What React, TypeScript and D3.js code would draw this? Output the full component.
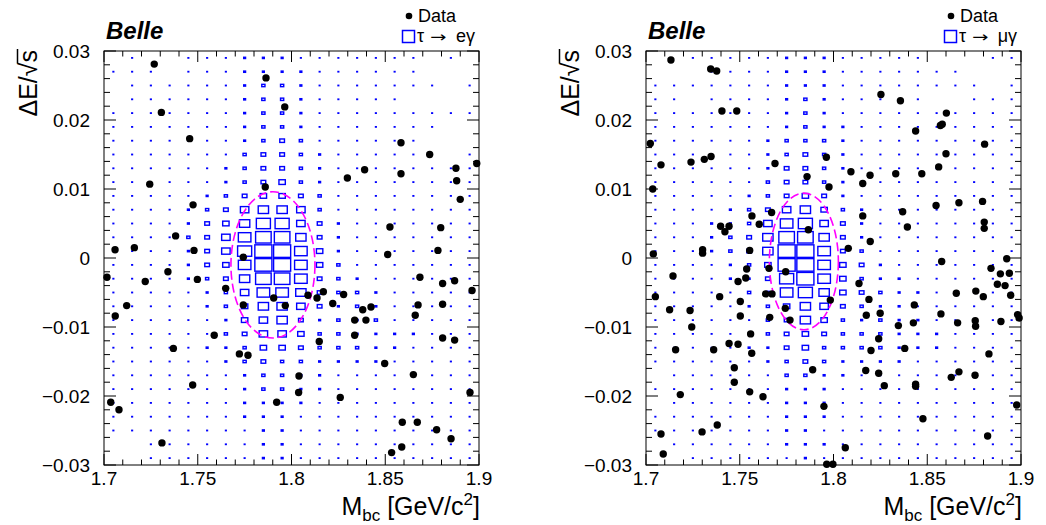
import React, { useLayoutEffect, useRef, useState } from "react";
import * as d3 from "d3";

// ---------- data ----------
const X_DOMAIN: [number, number] = [1.7, 1.9];
const Y_DOMAIN: [number, number] = [-0.03, 0.03];
const X_BIN = 0.01;
const Y_BIN = 0.002;

const X_MAJOR = [1.7, 1.75, 1.8, 1.85, 1.9];
const X_TICK_LABELS = ["1.7", "1.75", "1.8", "1.85", "1.9"];
const Y_MAJOR = [0.03, 0.02, 0.01, 0, -0.01, -0.02, -0.03];
const Y_TICK_LABELS = ["0.03", "0.02", "0.01", "0", "\u22120.01", "\u22120.02", "\u22120.03"];

// relative bin content (% of max) for each level code
const LEVEL_CONTENT: Record<string, number> = {
  ".": 0, "1": 6, "2": 12, "3": 17, "4": 25, "5": 34, "6": 45,
  "7": 55, "8": 67, "9": 75, "A": 83, "B": 91,
};

// signal MC, rows from dE = +0.03 (top) downward, 20 Mbc bins each
const signalE = [
  ".1..1112221111111.1.",
  "111.1112222111111...",
  ".11111123321111111.1",
  ".111111233211111....",
  "11111112332111111111",
  "111111123321111111..",
  "11111112343111111...",
  "11111113443211111..1",
  "11111123443211111111",
  "11111123453211111111",
  "11111234554311111111",
  "11112346776311111111",
  "11112457996421111111",
  "11113468AA7421111111",
  "11112469BB8521111111",
  "11112458BB8531111111",
  "11112347AA8432111111",
  "11111236887433211111",
  "11111235776423211111",
  "11111125674232311111",
  "11111134665332222111",
  "11111223554333221111",
  "11111123433222211111",
  "11111112332211111111",
  "11111112332211111111",
  "11111112222111111111",
  "11111112221111111111",
  "11111111221111111111",
  "..111111221111111111",
  "..111111221111111111",
];

const signalMu = [
  "..1111122211111...11",
  "...11112221111111...",
  "111111122211111111.1",
  "11.111123211111..111",
  "11111112321111111111",
  "11111112322111111111",
  "11111123332111111111",
  "11111123432111111111",
  "11111124432111111111",
  "11111134432111111111",
  "11111234542111111111",
  "11112346753211111111",
  "11122368964211111111",
  "1112347AA74211111111",
  "1112347BB84311111111",
  "1111235BB85421111111",
  "11112249B85322111111",
  "11111338975432211111",
  "11111235764322111111",
  "11111134753232211111",
  "11111134543332221111",
  "11111224533332221111",
  "11111123432222111111",
  ".1111113322111111111",
  "11111112221111111111",
  ".1111112221111111111",
  "11111112221111111111",
  "11111112211111111111",
  ".1111112221111111111",
  "..111111211111111111",
];

// data events [Mbc, dE/sqrt(s)]
const dataE: [number, number][] = [
  [1.7268, 0.0281], [1.7864, 0.0261], [1.7964, 0.0219], [1.7306, 0.0211], [1.7457, 0.0173],
  [1.8584, 0.0167], [1.8737, 0.015], [1.8988, 0.0137], [1.8877, 0.013], [1.839, 0.0128],
  [1.8584, 0.0122], [1.8298, 0.0116], [1.8881, 0.0112], [1.7244, 0.0107], [1.786, 0.0103],
  [1.7475, 0.0077], [1.89, 0.0085], [1.7382, 0.0032], [1.8525, 0.0045], [1.8796, 0.0044],
  [1.7059, 0.0012], [1.7162, 0.0015], [1.748, 0.0011], [1.8513, 0.0005], [1.8781, 0.0011],
  [1.7743, 0.0001], [1.7016, -0.0028], [1.722, -0.0034], [1.7341, -0.002], [1.7498, -0.0031],
  [1.8685, -0.0028], [1.8806, -0.0037], [1.887, -0.0033], [1.8963, -0.0047], [1.7649, -0.0044],
  [1.7121, -0.0069], [1.706, -0.0084], [1.7743, -0.0068], [1.7905, -0.0058], [1.7967, -0.0069],
  [1.8088, -0.0054], [1.8136, -0.0058], [1.817, -0.0049], [1.8278, -0.0053], [1.822, -0.0066],
  [1.838, -0.0075], [1.8424, -0.0071], [1.8337, -0.009], [1.8397, -0.009], [1.8675, -0.0068],
  [1.866, -0.0083], [1.8806, -0.0067], [1.7588, -0.0112], [1.8337, -0.0112], [1.8806, -0.0116],
  [1.887, -0.0119], [1.8148, -0.0121], [1.737, -0.0131], [1.7722, -0.0139], [1.7768, -0.0141],
  [1.8497, -0.0153], [1.804, -0.0171], [1.865, -0.0169], [1.7473, -0.0184], [1.8038, -0.0195],
  [1.8952, -0.0195], [1.826, -0.0202], [1.7921, -0.0209], [1.7036, -0.0209], [1.708, -0.022],
  [1.8591, -0.0238], [1.8671, -0.0238], [1.8774, -0.0249], [1.8851, -0.0262], [1.7309, -0.0268],
  [1.8588, -0.0274], [1.8534, -0.0282],
];

const dataMu: [number, number][] = [
  [1.7133, 0.0287], [1.7345, 0.0274], [1.7377, 0.0271], [1.7405, 0.0213], [1.7484, 0.0213],
  [1.8253, 0.0237], [1.8357, 0.0228], [1.8602, 0.021], [1.858, 0.0194], [1.857, 0.0192],
  [1.8438, 0.0184], [1.7023, 0.0166], [1.8806, 0.0165], [1.86, 0.0151], [1.7347, 0.0147],
  [1.7311, 0.0143], [1.724, 0.0139], [1.708, 0.0135], [1.7962, 0.0146], [1.7688, 0.0137],
  [1.8561, 0.0132], [1.8093, 0.0125], [1.8195, 0.012], [1.8332, 0.0122], [1.8471, 0.0122],
  [1.7859, 0.0118], [1.8156, 0.0108], [1.7036, 0.01], [1.7976, 0.0103], [1.8547, 0.0076],
  [1.8669, 0.008], [1.8795, 0.0082], [1.7565, 0.0061], [1.767, 0.0066], [1.8156, 0.0061],
  [1.8369, 0.0067], [1.7604, 0.0049], [1.7398, 0.0046], [1.7443, 0.0046], [1.7421, 0.0038],
  [1.8394, 0.0045], [1.8804, 0.0052], [1.8804, 0.0043], [1.7866, 0.0041], [1.8196, 0.0024],
  [1.7302, 0.0012], [1.7302, 0.0007], [1.7039, 0.0006], [1.7553, 0.0011], [1.8079, 0.0014],
  [1.8577, -0.0005], [1.8924, -0.0001], [1.884, -0.0015], [1.889, -0.0023], [1.8938, -0.0022],
  [1.8874, -0.0038], [1.8915, -0.004], [1.7144, -0.0026], [1.7537, -0.0016], [1.7656, -0.0015],
  [1.7745, -0.002], [1.7532, -0.0029], [1.7491, -0.0034], [1.8136, -0.0037], [1.705, -0.0056],
  [1.7393, -0.0056], [1.7638, -0.0052], [1.7672, -0.0052], [1.7503, -0.0063], [1.7983, -0.0061],
  [1.8189, -0.006], [1.8655, -0.0051], [1.8759, -0.0048], [1.8799, -0.0056], [1.8945, -0.0054],
  [1.7126, -0.0075], [1.7235, -0.0076], [1.7743, -0.0073], [1.7503, -0.0084], [1.766, -0.0086],
  [1.7768, -0.009], [1.8175, -0.0083], [1.8249, -0.008], [1.8431, -0.0068], [1.8573, -0.0081],
  [1.8346, -0.0098], [1.8426, -0.0094], [1.8662, -0.0094], [1.8756, -0.0091], [1.8758, -0.0099],
  [1.8893, -0.0092], [1.8982, -0.0082], [1.899, -0.0087], [1.7244, -0.01], [1.7558, -0.011],
  [1.7443, -0.0124], [1.7491, -0.0125], [1.7158, -0.0133], [1.7361, -0.0133], [1.7564, -0.0138],
  [1.8241, -0.0117], [1.82, -0.0134], [1.838, -0.0131], [1.8829, -0.0139], [1.7471, -0.0159],
  [1.7889, -0.0162], [1.8172, -0.0163], [1.8241, -0.0167], [1.8669, -0.0165], [1.8628, -0.0173],
  [1.8755, -0.017], [1.7471, -0.018], [1.8271, -0.0185], [1.8438, -0.0183], [1.8438, -0.0186],
  [1.7183, -0.0198], [1.7553, -0.0194], [1.7624, -0.0201], [1.7949, -0.0215], [1.8977, -0.0213],
  [1.8477, -0.0233], [1.738, -0.0242], [1.7299, -0.0252], [1.708, -0.0255], [1.8822, -0.0258],
  [1.8063, -0.0275], [1.7092, -0.0284], [1.7964, -0.0299], [1.7997, -0.0299],
];

// signal region ellipses: [centre Mbc, centre dE, half-width Mbc, half-height dE]
const ellipseE = [1.7901, -0.001, 0.0224, 0.0106];
const ellipseMu = [1.7842, -0.0005, 0.0184, 0.0099];

// legend: [particle, arrow, final state]
const LEGEND_SIGNAL: [string, string, string][] = [
  ["\u03c4", "\u2192", "e\u03b3"],
  ["\u03c4", "\u2192", "\u03bc\u03b3"],
];

// ---------- layout ----------
const W = 375;
const H = 414;
const TOP = 51;
const PANEL_LEFT = [104, 646];
const FONT = "'Liberation Sans', Arial, Helvetica, sans-serif";
const BLUE = "#0000ff";

function YTitle({ x, y }: { x: number; y: number }) {
  const ref = useRef<SVGTextElement>(null);
  const [bar, setBar] = useState<[number, number] | null>(null);
  useLayoutEffect(() => {
    const t = ref.current;
    if (!t) return;
    const n = t.getNumberOfChars();
    const r1 = t.getEndPositionOfChar(n - 2).x;
    const s1 = t.getEndPositionOfChar(n - 1).x;
    setBar([r1 - 1, s1 + 1]);
  }, []);
  return (
    <g transform={`translate(${x},${y}) rotate(-90)`}>
      <text ref={ref} textAnchor="end" fontSize={25} fontFamily={FONT} fill="#000">
        {"\u0394E/\u221as"}
      </text>
      {bar && (
        <line x1={bar[0]} x2={bar[1]} y1={-19.5} y2={-19.5} stroke="#000" strokeWidth={1.5} />
      )}
    </g>
  );
}

function Panel({ idx }: { idx: number }) {
  const grid = idx === 0 ? signalE : signalMu;
  const data = idx === 0 ? dataE : dataMu;
  const ell = idx === 0 ? ellipseE : ellipseMu;
  const leg = LEGEND_SIGNAL[idx];
  const x = d3.scaleLinear().domain(X_DOMAIN).range([0, W]);
  const y = d3.scaleLinear().domain(Y_DOMAIN).range([H, 0]);
  const bw = x(X_DOMAIN[0] + X_BIN) - x(X_DOMAIN[0]);
  const bh = y(0) - y(Y_BIN);

  const boxes: React.ReactNode[] = [];
  grid.forEach((row, j) => {
    row.split("").forEach((ch, i) => {
      const c = LEVEL_CONTENT[ch] || 0;
      if (c <= 0) return;
      const cx = x(X_DOMAIN[0] + X_BIN * (i + 0.5));
      const cy = y(Y_DOMAIN[1] - Y_BIN * (j + 0.5));
      const f = c / 100;
      const w = f * bw;
      const h = f * bh;
      if (c <= 12) {
        boxes.push(
          <rect key={`${i}-${j}`} x={cx - (w + 1) / 2} y={cy - (h + 1) / 2} width={w + 1} height={h + 1} fill={BLUE} />
        );
      } else {
        boxes.push(
          <rect key={`${i}-${j}`} x={cx - w / 2} y={cy - h / 2} width={w} height={h} fill="none" stroke={BLUE} strokeWidth={1.4} />
        );
      }
    });
  });

  const xMinor = d3.range(0, 21).map((k) => X_DOMAIN[0] + k * X_BIN);
  const yMinor = d3.range(0, 31).map((k) => Y_DOMAIN[0] + k * Y_BIN);
  const isMajorX = (v: number) => X_MAJOR.some((m) => Math.abs(m - v) < 1e-6);
  const isMajorY = (v: number) => Y_MAJOR.some((m) => Math.abs(m - v) < 1e-6);

  return (
    <g transform={`translate(${PANEL_LEFT[idx]},${TOP})`} fontFamily={FONT}>
      <defs>
        <clipPath id={`clip${idx}`}>
          <rect x={0} y={0} width={W} height={H} />
        </clipPath>
      </defs>
      <g clipPath={`url(#clip${idx})`}>
        {boxes}
        <ellipse
          cx={x(ell[0])}
          cy={y(ell[1])}
          rx={x(ell[0] + ell[2]) - x(ell[0])}
          ry={y(ell[1]) - y(ell[1] + ell[3])}
          fill="none"
          stroke="#ff00ff"
          strokeWidth={1.6}
          strokeDasharray="9 4"
        />
      </g>
      {data.map((d, k) => (
        <circle key={k} cx={x(d[0])} cy={y(d[1])} r={3.7} fill="#000" />
      ))}
      {/* frame */}
      <rect x={0} y={0} width={W} height={H} fill="none" stroke="#000" strokeWidth={1} />
      {/* x ticks */}
      {xMinor.map((v, k) => {
        const L = isMajorX(v) ? 11 : 5.5;
        const px = x(v);
        return (
          <g key={`xt${k}`} stroke="#000" strokeWidth={1}>
            <line x1={px} x2={px} y1={H} y2={H - L} />
            <line x1={px} x2={px} y1={0} y2={L} />
          </g>
        );
      })}
      {yMinor.map((v, k) => {
        const L = isMajorY(v) ? 12 : 6;
        const py = y(v);
        return (
          <g key={`yt${k}`} stroke="#000" strokeWidth={1}>
            <line x1={0} x2={L} y1={py} y2={py} />
            <line x1={W} x2={W - L} y1={py} y2={py} />
          </g>
        );
      })}
      {X_MAJOR.map((v, k) => (
        <text key={`xl${k}`} x={x(v)} y={H + 20} textAnchor="middle" fontSize={19}>
          {X_TICK_LABELS[k]}
        </text>
      ))}
      {Y_MAJOR.map((v, k) => (
        <text key={`yl${k}`} x={-14} y={y(v) + 7} textAnchor="end" fontSize={19}>
          {Y_TICK_LABELS[k]}
        </text>
      ))}
      {/* x title */}
      <text x={W + 1} y={H + 50} textAnchor="end" fontSize={25}>
        M
        <tspan fontSize={17} dy={6}>bc</tspan>
        <tspan dy={-6}>{" [GeV/c"}</tspan>
        <tspan fontSize={17} dy={-10}>2</tspan>
        <tspan dy={10}>]</tspan>
      </text>
      <YTitle x={-67} y={-1} />
      {/* Belle */}
      <text x={2} y={-12} fontSize={24} fontWeight="bold" fontStyle="italic">
        Belle
      </text>
      {/* legend */}
      <circle cx={305} cy={-35} r={3.3} fill="#000" />
      <text x={314} y={-29} fontSize={18}>Data</text>
      <rect x={298.5} y={-20.5} width={12} height={12} fill="none" stroke={BLUE} strokeWidth={1.5} />
      <text x={313} y={-9} fontSize={18}>{leg[0]}</text>
      <g transform={`translate(326,-9) scale(1.3,1)`}>
        <text x={0} y={0} fontSize={15} fontFamily="'DejaVu Sans', sans-serif">{leg[1]}</text>
      </g>
      <text x={W - 4} y={-9} fontSize={18} textAnchor="end">{leg[2]}</text>
    </g>
  );
}

export default function App() {
  return (
    <svg
      width={1046}
      height={525}
      style={{ position: "absolute", left: 0, top: 0, background: "#fff" }}
    >
      <rect width={1046} height={525} fill="#fff" />
      <Panel idx={0} />
      <Panel idx={1} />
    </svg>
  );
}
